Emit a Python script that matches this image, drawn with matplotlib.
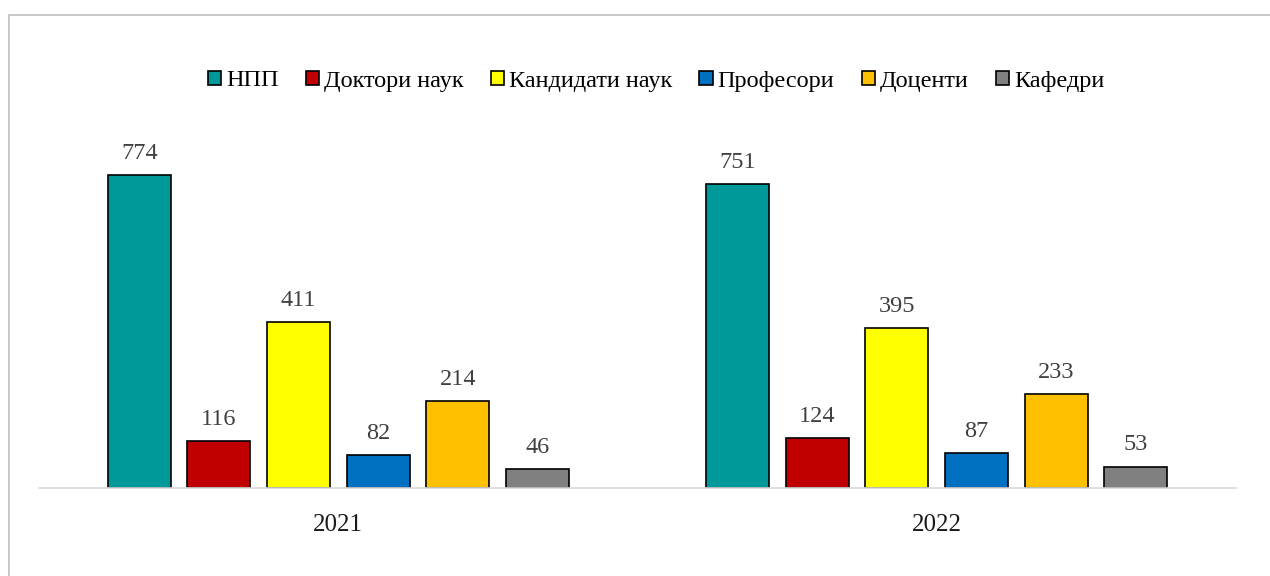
import numpy as np
import matplotlib.pyplot as plt
from matplotlib.patches import Rectangle

years = ['2021', '2022']
series = ['НПП', 'Доктори наук', 'Кандидати наук', 'Професори', 'Доценти', 'Кафедри']
values = [
    [774, 751],
    [116, 124],
    [411, 395],
    [82, 87],
    [214, 233],
    [46, 53],
]
colors = ['#009999', '#C00000', '#FFFF00', '#0070C0', '#FFC000', '#808080']

plt.rcParams['font.family'] = ['Liberation Serif', 'DejaVu Serif']

W, H = 1270, 576
fig = plt.figure(figsize=(W / 100, H / 100), dpi=100)
# axes placed in pixel terms: x 39..1236, y 130..488 (from top)
ax = fig.add_axes([39 / W, (H - 488) / H, (1236 - 39) / W, (488 - 130) / H])

x = np.arange(len(years))
step = 0.133
width = 0.1053
for i, (name, vals, c) in enumerate(zip(series, values, colors)):
    pos = x + (i - 2.5) * step
    bars = ax.bar(pos, vals, width, color=c, edgecolor='black', linewidth=1.2, label=name)
    for b, v in zip(bars, vals):
        ax.annotate(str(v), (b.get_x() + b.get_width() / 2, v), xytext=(0, 8),
                    textcoords='offset points', ha='center', va='bottom',
                    fontsize=17.5, color='#404040')

ax.set_xlim(-0.5, 1.5)
ax.set_ylim(0, 358 / 0.4044)
ax.set_xticks(x)
ax.set_xticklabels(years, fontsize=18, color='#1a1a1a')
ax.tick_params(axis='x', length=0, pad=19)
ax.set_yticks([])
for s in ['top', 'right', 'left']:
    ax.spines[s].set_visible(False)
ax.spines['bottom'].set_color('#d9d9d9')
ax.spines['bottom'].set_linewidth(1.2)

fig.legend(loc='center', bbox_to_anchor=(656 / W, 1 - 81 / H), ncol=6, frameon=False,
           fontsize=17.5, handlelength=0.55, handleheight=0.55, handletextpad=0.2,
           columnspacing=1.12)

# outer chart border (runs off right and bottom edges)
fig.patches.append(Rectangle((8.5 / W, -0.1), 1.2, 1 - 14.5 / H + 0.1,
                             transform=fig.transFigure, fill=False,
                             edgecolor='#bfbfbf', linewidth=1.2))

fig.savefig('out.png', dpi=100)
